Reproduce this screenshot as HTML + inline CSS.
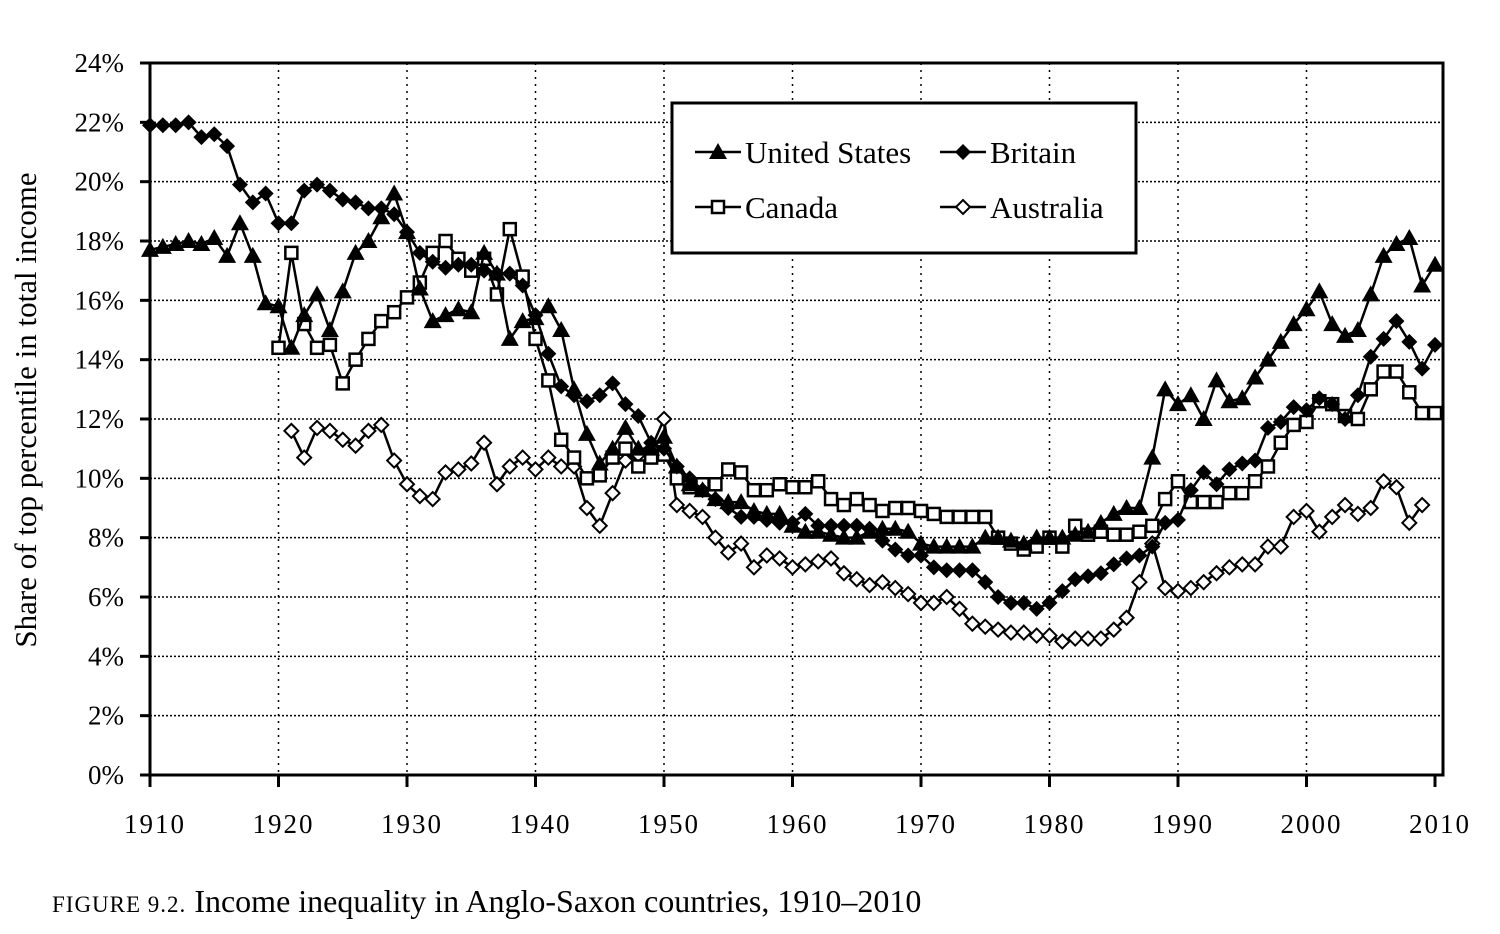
<!DOCTYPE html>
<html><head><meta charset="utf-8"><style>
body{margin:0;background:#fff;}
svg{display:block;font-family:"Liberation Serif",serif;}
</style></head><body>
<svg id="chart" width="1500" height="934" viewBox="0 0 1500 934" xmlns="http://www.w3.org/2000/svg">
<g id="grid"></g>
<g id="axes"></g>
<g id="series"></g>
<g id="legend">
  <rect x="672" y="103" width="464" height="150" fill="#fff" stroke="#000" stroke-width="3"/>
</g>
<text transform="translate(36,410) rotate(-90)" text-anchor="middle" font-size="31">Share of top percentile in total income</text>
<text x="52" y="912" font-size="32"><tspan font-size="23" letter-spacing="1">FIGURE 9.2.</tspan>  Income inequality in Anglo-Saxon countries, 1910–2010</text>
</svg>
<script>
const years = [];
for (let y = 1910; y <= 2010; y++) years.push(y);
const xTicks = [1910,1920,1930,1940,1950,1960,1970,1980,1990,2000,2010];
const yTicks = [0,2,4,6,8,10,12,14,16,18,20,22,24];
const usStart = 1910;
const usValues = [17.7,17.8,17.9,18.0,17.9,18.1,17.5,18.6,17.5,15.9,15.8,14.4,15.5,16.2,15.0,16.3,17.6,18.0,18.8,19.6,18.3,16.4,15.3,15.5,15.7,15.6,17.6,16.9,14.7,15.3,15.4,15.8,15.0,13.0,11.5,10.5,11.0,11.7,11.0,11.0,11.4,10.4,9.8,9.6,9.3,9.2,9.2,8.9,8.8,8.8,8.4,8.2,8.2,8.1,8.0,8.0,8.2,8.3,8.3,8.2,7.8,7.7,7.7,7.7,7.7,8.0,8.0,7.9,7.8,8.0,8.0,8.0,8.1,8.2,8.5,8.8,9.0,9.0,10.7,13.0,12.5,12.8,12.0,13.3,12.6,12.7,13.4,14.0,14.6,15.2,15.7,16.3,15.2,14.8,15.0,16.2,17.5,17.9,18.1,16.5,17.2];
const ukStart = 1910;
const ukValues = [21.9,21.9,21.9,22.0,21.5,21.6,21.2,19.9,19.3,19.6,18.6,18.6,19.7,19.9,19.7,19.4,19.3,19.1,19.1,18.9,18.3,17.6,17.3,17.1,17.2,17.2,17.0,16.9,16.9,16.5,15.5,14.2,13.1,12.8,12.6,12.8,13.2,12.5,12.1,11.2,11.0,10.4,10.0,9.6,9.3,9.0,8.7,8.7,8.6,8.5,8.5,8.8,8.4,8.4,8.4,8.4,8.3,7.9,7.6,7.4,7.4,7.0,6.9,6.9,6.9,6.5,6.0,5.8,5.8,5.6,5.8,6.2,6.6,6.7,6.8,7.1,7.3,7.4,7.7,8.5,8.6,9.6,10.2,9.8,10.3,10.5,10.6,11.7,11.9,12.4,12.3,12.7,12.5,12.0,12.8,14.1,14.7,15.3,14.6,13.7,14.5];
const caStart = 1920;
const caValues = [14.4,17.6,15.2,14.4,14.5,13.2,14.0,14.7,15.3,15.6,16.1,16.6,17.6,18.0,17.4,17.0,17.4,16.2,18.4,16.8,14.7,13.3,11.3,10.7,10.0,10.1,10.7,11.0,10.4,10.7,10.8,10.0,9.7,9.8,9.8,10.3,10.2,9.6,9.6,9.8,9.7,9.7,9.9,9.3,9.1,9.3,9.1,8.9,9.0,9.0,8.9,8.8,8.7,8.7,8.7,8.7,8.0,7.8,7.6,7.7,8.0,7.7,8.4,8.1,8.2,8.1,8.1,8.2,8.4,9.3,9.9,9.2,9.2,9.2,9.5,9.5,9.9,10.4,11.2,11.8,11.9,12.6,12.5,12.1,12.0,13.0,13.6,13.6,12.9,12.2,12.2];
const auStart = 1921;
const auValues = [11.6,10.7,11.7,11.6,11.3,11.1,11.6,11.8,10.6,9.8,9.4,9.3,10.2,10.3,10.5,11.2,9.8,10.4,10.7,10.3,10.7,10.4,10.4,9.0,8.4,9.5,10.6,10.8,11.0,12.0,9.1,8.9,8.7,8.0,7.5,7.8,7.0,7.4,7.3,7.0,7.1,7.2,7.3,6.8,6.6,6.4,6.5,6.3,6.1,5.8,5.8,6.0,5.6,5.1,5.0,4.9,4.8,4.8,4.7,4.7,4.5,4.6,4.6,4.6,4.9,5.3,6.5,7.8,6.3,6.2,6.3,6.5,6.8,7.0,7.1,7.1,7.7,7.7,8.7,8.9,8.2,8.7,9.1,8.8,9.0,9.9,9.7,8.5,9.1];

const NS = "http://www.w3.org/2000/svg";
const L = 150, R = 1443, T = 63, B = 775;
const X = yr => L + (yr - 1910) * 12.85;
const Y = v => B - (v / 24) * (B - T);
function mk(tag, attrs, parent) {
  const e = document.createElementNS(NS, tag);
  for (const k in attrs) e.setAttribute(k, attrs[k]);
  parent.appendChild(e);
  return e;
}
const grid = document.getElementById('grid'), axes = document.getElementById('axes'), ser = document.getElementById('series');
yTicks.forEach(v => {
  if (v > 0 && v < 24) {
    const g = mk('line', {x1: L, x2: R, y1: Y(v), y2: Y(v), stroke: '#000', 'stroke-width': 1.5, 'stroke-dasharray': '2,2'}, grid);
    
    
  }
  const t = mk('line', {x1: L - 10, x2: L, y1: Y(v), y2: Y(v), stroke: '#000', 'stroke-width': 3}, axes);
  
  
  const lb = mk('text', {x: 124, y: Y(v) + 9, 'text-anchor': 'end', 'font-size': 27}, axes);
  
  
  lb.textContent = v + '%';
});
xTicks.forEach(yr => {
  if (yr > 1910 && yr < 2010) {
    const g = mk('line', {x1: X(yr), x2: X(yr), y1: T, y2: B, stroke: '#000', 'stroke-width': 1.5, 'stroke-dasharray': '2,5'}, grid);
    
    
  }
  const t = mk('line', {x1: X(yr), x2: X(yr), y1: B, y2: B + 12, stroke: '#000', 'stroke-width': 3}, axes);
  
  
  const lb = mk('text', {x: X(yr) + 5, y: 833, 'text-anchor': 'middle', 'font-size': 27, 'letter-spacing': 2}, axes);
  
  
  lb.textContent = yr;
});
const frame = mk('rect', {x: L, y: T, width: R - L, height: B - T, fill: 'none', stroke: '#000', 'stroke-width': 3}, axes);



function marker(type, cx, cy, parent) {
  let e;
  if (type === 'tri') e = mk('polygon', {points: `${cx},${cy-9} ${cx-9},${cy+7} ${cx+9},${cy+7}`, fill: '#000'}, parent);
  else if (type === 'dia') e = mk('polygon', {points: `${cx},${cy-8} ${cx+8},${cy} ${cx},${cy+8} ${cx-8},${cy}`, fill: '#000'}, parent);
  else if (type === 'sq') e = mk('rect', {x: cx-6, y: cy-6, width: 12, height: 12, fill: '#fff', stroke: '#000', 'stroke-width': 2.5}, parent);
  else e = mk('polygon', {points: `${cx},${cy-7} ${cx+7},${cy} ${cx},${cy+7} ${cx-7},${cy}`, fill: '#fff', stroke: '#000', 'stroke-width': 2}, parent);
  return e;
}
function drawSeries(name, start, vals, type) {
  const g = mk('g', {}, ser);
  
  
  const pts = vals.map((v, i) => `${X(start + i)},${Y(v)}`).join(' ');
  const pl = mk('polyline', {points: pts, fill: 'none', stroke: '#000', 'stroke-width': 2.5}, g);
  
  
  vals.forEach((v, i) => {
    const m = marker(type, X(start + i), Y(v), g);
    
    
  });
}
drawSeries('australia', auStart, auValues, 'odia');
drawSeries('canada', caStart, caValues, 'sq');
drawSeries('britain', ukStart, ukValues, 'dia');
drawSeries('united-states', usStart, usValues, 'tri');

const leg = document.getElementById('legend');
const entries = [
  ['United States', 'tri', 695, 152],
  ['Britain', 'dia', 940, 152],
  ['Canada', 'sq', 695, 207],
  ['Australia', 'odia', 940, 207]
];
entries.forEach(([label, type, x, y]) => {
  const g = mk('g', {}, leg);
  
  
  mk('line', {x1: x, x2: x + 46, y1: y, y2: y, stroke: '#000', 'stroke-width': 2.5}, g);
  marker(type, x + 23, y, g);
  const t = mk('text', {x: x + 50, y: y + 11, 'font-size': 31}, g);
  t.textContent = label;
});
</script>
</body></html>
